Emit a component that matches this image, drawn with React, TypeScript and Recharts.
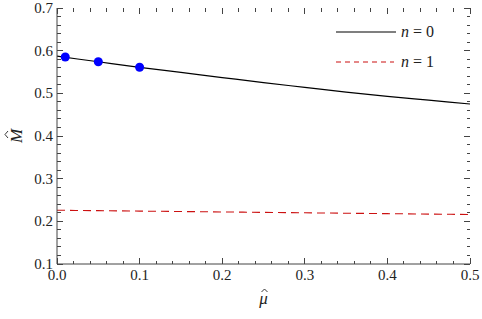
import { ComposedChart, Line, Scatter, XAxis, YAxis, Label, ReferenceLine } from 'recharts'

// mu-hat grid and the two curves
const muValues = [0, 0.05, 0.1, 0.15, 0.2, 0.25, 0.3, 0.35, 0.4, 0.45, 0.5]
const mass_n0 = [0.587, 0.574, 0.561, 0.549, 0.537, 0.525, 0.514, 0.503, 0.493, 0.484, 0.475]
const mass_n1 = [0.226, 0.225, 0.224, 0.223, 0.222, 0.221, 0.22, 0.219, 0.218, 0.217, 0.216]

// blue markers on the n = 0 curve
const pointMu = [0.01, 0.05, 0.1]
const pointMass = [0.585, 0.574, 0.561]

const xMajor = [0, 0.1, 0.2, 0.3, 0.4, 0.5]
const yMajor = [0.1, 0.2, 0.3, 0.4, 0.5, 0.6, 0.7]
const xTicks = Array.from({ length: 26 }, (_, i) => +(i * 0.02).toFixed(2))
const yTicks = Array.from({ length: 31 }, (_, i) => +(0.1 + i * 0.02).toFixed(2))

const X_DOMAIN: [number, number] = [0, 0.5]
const Y_DOMAIN: [number, number] = [0.1, 0.7]

const data = muValues.map((mu, i) => ({ mu, n0: mass_n0[i], n1: mass_n1[i] }))
const points = pointMu.map((mu, i) => ({ mu, M: pointMass[i] }))

const FONT = "'Liberation Serif', 'Times New Roman', 'DejaVu Serif', serif"
const FRAME = '#444'
const TEXT = '#222'

// plot box is about 413 x 256 px; tick lengths as fractions of the domain
const X_PER_PX = 0.5 / 413
const Y_PER_PX = 0.6 / 256

const isMajor = (v: number, majors: number[]) => majors.some((m) => Math.abs(m - v) < 1e-9)

function TickLabel(props: any) {
  const { x, y, payload, side } = props
  const v = payload.value
  if (side === 'bottom') {
    if (!isMajor(v, xMajor)) return null
    return (
      <text x={x} y={y + 16} textAnchor="middle" style={{ fontFamily: FONT, fontSize: 15 }} fill={TEXT}>
        {v.toFixed(1)}
      </text>
    )
  }
  if (!isMajor(v, yMajor)) return null
  return (
    <text x={x - 4} y={y + 5} textAnchor="end" style={{ fontFamily: FONT, fontSize: 15 }} fill={TEXT}>
      {v.toFixed(1)}
    </text>
  )
}

export default function App() {
  const frameTicks: any[] = []
  xTicks.forEach((v) => {
    const len = (isMajor(v, xMajor) ? 6 : 3.5) * Y_PER_PX
    frameTicks.push(
      <ReferenceLine
        key={`xb${v}`}
        segment={[{ x: v, y: Y_DOMAIN[0] }, { x: v, y: Y_DOMAIN[0] + len }]}
        stroke={FRAME}
        strokeWidth={1}
        shapeRendering="crispEdges"
      />,
      <ReferenceLine
        key={`xt${v}`}
        segment={[{ x: v, y: Y_DOMAIN[1] }, { x: v, y: Y_DOMAIN[1] - len }]}
        stroke={FRAME}
        strokeWidth={1}
        shapeRendering="crispEdges"
      />
    )
  })
  yTicks.forEach((v) => {
    const len = (isMajor(v, yMajor) ? 6 : 3.5) * X_PER_PX
    frameTicks.push(
      <ReferenceLine
        key={`yl${v}`}
        segment={[{ x: X_DOMAIN[0], y: v }, { x: X_DOMAIN[0] + len, y: v }]}
        stroke={FRAME}
        strokeWidth={1}
        shapeRendering="crispEdges"
      />,
      <ReferenceLine
        key={`yr${v}`}
        segment={[{ x: X_DOMAIN[1], y: v }, { x: X_DOMAIN[1] - len, y: v }]}
        stroke={FRAME}
        strokeWidth={1}
        shapeRendering="crispEdges"
      />
    )
  })

  return (
    <div style={{ position: 'absolute', left: 0, top: 0, width: 482, height: 319, background: '#fff' }}>
      <ComposedChart
        width={482}
        height={319}
        data={data}
        margin={{ top: 8, right: 12, bottom: 0, left: 0 }}
      >
        <XAxis
          dataKey="mu"
          type="number"
          domain={X_DOMAIN}
          ticks={xTicks}
          interval={0}
          height={55}
          tickSize={0}
          tickMargin={0}
          tickLine={false}
          axisLine={{ stroke: FRAME }}
          tick={<TickLabel side="bottom" />}
        >
          <Label
            content={({ viewBox }: any) => {
              const cx = viewBox.x + viewBox.width / 2
              const by = viewBox.y + 40
              return (
                <g>
                  <text
                    x={cx}
                    y={by}
                    textAnchor="middle"
                    fill={TEXT}
                    style={{ fontFamily: FONT, fontStyle: 'italic', fontSize: 17 }}
                  >
                    {'\u03bc'}
                  </text>
                  <path
                    d={`M${cx - 2},${by - 12}L${cx + 1},${by - 15}L${cx + 4},${by - 12}`}
                    stroke={TEXT}
                    strokeWidth={0.9}
                    fill="none"
                  />
                </g>
              )
            }}
          />
        </XAxis>
        <XAxis
          xAxisId="top"
          dataKey="mu"
          type="number"
          orientation="top"
          domain={X_DOMAIN}
          height={0}
          tick={false}
          tickLine={false}
          axisLine={{ stroke: FRAME }}
        />
        <YAxis
          type="number"
          domain={Y_DOMAIN}
          ticks={yTicks}
          interval={0}
          width={57}
          tickSize={0}
          tickMargin={0}
          tickLine={false}
          axisLine={{ stroke: FRAME }}
          tick={<TickLabel side="left" />}
        >
          <Label
            content={({ viewBox }: any) => {
              const cx = 22
              const cy = viewBox.y + viewBox.height / 2
              return (
                <g transform={`rotate(-90 ${cx} ${cy})`}>
                  <text
                    x={cx}
                    y={cy}
                    textAnchor="middle"
                    fill={TEXT}
                    style={{ fontFamily: FONT, fontStyle: 'italic', fontSize: 17 }}
                  >
                    M
                  </text>
                  <path
                    d={`M${cx - 2},${cy - 14}L${cx + 1.5},${cy - 17}L${cx + 5},${cy - 14}`}
                    stroke={TEXT}
                    strokeWidth={0.9}
                    fill="none"
                  />
                </g>
              )
            }}
          />
        </YAxis>
        <YAxis
          yAxisId="right"
          orientation="right"
          type="number"
          domain={Y_DOMAIN}
          width={0}
          tick={false}
          tickLine={false}
          axisLine={{ stroke: FRAME }}
        />
        {frameTicks}
        <Line
          type="monotone"
          dataKey="n1"
          stroke="#cc1111"
          strokeWidth={1.1}
          strokeDasharray="8 5"
          dot={false}
          isAnimationActive={false}
        />
        <Line
          type="monotone"
          dataKey="n0"
          stroke="#000"
          strokeWidth={1.2}
          dot={false}
          isAnimationActive={false}
        />
        <Scatter data={points} dataKey="M" fill="#0000ff" isAnimationActive={false} />
      </ComposedChart>
      <svg
        width={482}
        height={319}
        style={{ position: 'absolute', left: 0, top: 0, pointerEvents: 'none', fontFamily: FONT }}
      >
        <line x1={336} y1={32} x2={396} y2={32} stroke="#000" strokeWidth={1.2} />
        <text x={401} y={37} fontSize={16} fill={TEXT}>
          <tspan fontStyle="italic">n</tspan>
          <tspan> = 0</tspan>
        </text>
        <line x1={336} y1={62} x2={394} y2={62} stroke="#cc1111" strokeWidth={1.1} strokeDasharray="5 4" />
        <text x={401} y={67} fontSize={16} fill={TEXT}>
          <tspan fontStyle="italic">n</tspan>
          <tspan> = 1</tspan>
        </text>
      </svg>
    </div>
  )
}
